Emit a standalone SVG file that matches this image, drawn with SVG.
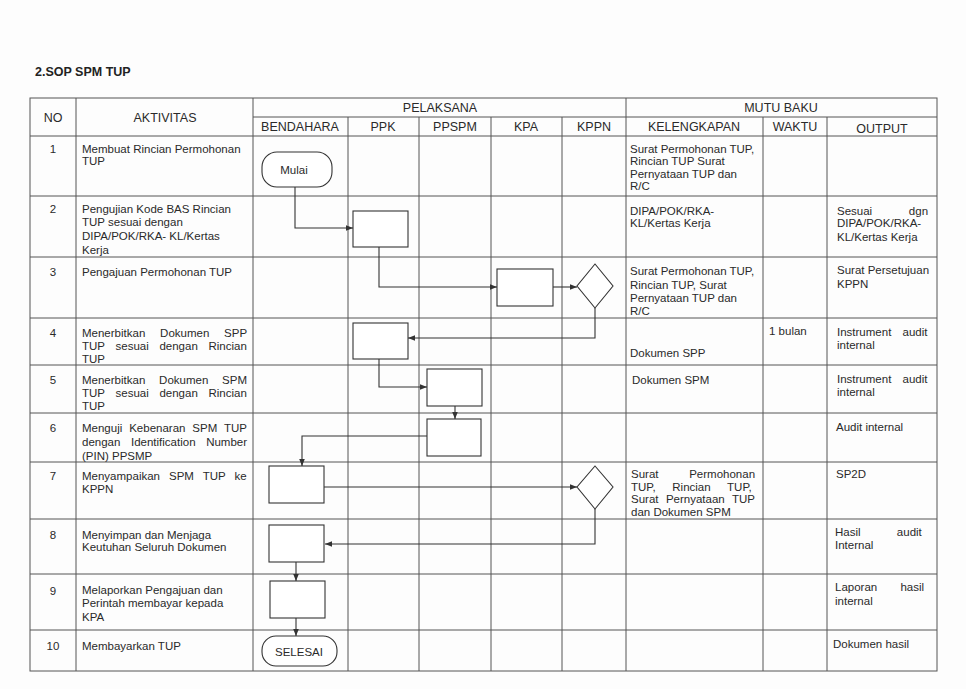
<svg xmlns="http://www.w3.org/2000/svg" width="966" height="689" viewBox="0 0 966 689">
<defs>
<marker id="ah" viewBox="0 0 10 10" refX="10" refY="5" markerWidth="7" markerHeight="7" markerUnits="userSpaceOnUse" orient="auto">
<path d="M0,1 L10,5 L0,9 z" fill="#333"/>
</marker>
<style>
.g{stroke:#555;stroke-width:1;fill:none}
.t{font-family:"Liberation Sans",Arial,sans-serif;font-size:11.5px;fill:#2a2a2a}
.h{font-family:"Liberation Sans",Arial,sans-serif;font-size:12.5px;fill:#2a2a2a;text-anchor:middle}
.c{text-anchor:middle}
.s{fill:none;stroke:#333;stroke-width:1.1}
.n{fill:#fff;stroke:#333;stroke-width:1.1}
</style>
</defs>
<rect width="966" height="689" fill="#fdfdfd"/>
<text x="35" y="76" font-family="Liberation Sans,Arial,sans-serif" font-size="12.5" font-weight="bold" fill="#222">2.SOP SPM TUP</text>

<g id="grid" class="g">
<rect x="30" y="98" width="907" height="573"/>
<line x1="76" y1="98" x2="76" y2="671"/>
<line x1="253" y1="98" x2="253" y2="671"/>
<line x1="626" y1="98" x2="626" y2="671"/>
<line x1="763" y1="117" x2="763" y2="671"/>
<line x1="827" y1="117" x2="827" y2="671"/>
<line x1="348" y1="117" x2="348" y2="671"/>
<line x1="419" y1="117" x2="419" y2="671"/>
<line x1="491" y1="117" x2="491" y2="671"/>
<line x1="562" y1="117" x2="562" y2="671"/>
<line x1="253" y1="117" x2="937" y2="117"/>
<line x1="30" y1="136" x2="937" y2="136"/>
<line x1="30" y1="196" x2="937" y2="196"/>
<line x1="30" y1="257" x2="937" y2="257"/>
<line x1="30" y1="318" x2="937" y2="318"/>
<line x1="30" y1="365" x2="937" y2="365"/>
<line x1="30" y1="413" x2="937" y2="413"/>
<line x1="30" y1="462" x2="937" y2="462"/>
<line x1="30" y1="519" x2="937" y2="519"/>
<line x1="30" y1="574" x2="937" y2="574"/>
<line x1="30" y1="630" x2="937" y2="630"/>
</g>

<g id="header">
<text class="h" x="53" y="122">NO</text>
<text class="h" x="165" y="122">AKTIVITAS</text>
<text class="h" x="440" y="112">PELAKSANA</text>
<text class="h" x="300" y="131">BENDAHARA</text>
<text class="h" x="383" y="131">PPK</text>
<text class="h" x="455" y="131">PPSPM</text>
<text class="h" x="526" y="131">KPA</text>
<text class="h" x="594" y="131">KPPN</text>
<text class="h" x="781" y="112">MUTU BAKU</text>
<text class="h" x="694" y="131">KELENGKAPAN</text>
<text class="h" x="795" y="131">WAKTU</text>
<text class="h" x="882" y="133">OUTPUT</text>
</g>

<g id="rows" class="t">
<text class="c" x="53" y="153">1</text>
<text x="82" y="153">Membuat Rincian Permohonan</text>
<text x="82" y="165">TUP</text>
<text class="c" x="53" y="213">2</text>
<text x="82" y="213">Pengujian Kode BAS Rincian</text>
<text x="82" y="226">TUP sesuai dengan</text>
<text x="82" y="240">DIPA/POK/RKA- KL/Kertas</text>
<text x="82" y="254">Kerja</text>
<text class="c" x="53" y="276">3</text>
<text x="82" y="276">Pengajuan Permohonan TUP</text>
<text class="c" x="53" y="337">4</text>
<text x="82" y="337" word-spacing="11.6">Menerbitkan Dokumen SPP</text>
<text x="82" y="350" word-spacing="7.5">TUP sesuai dengan Rincian</text>
<text x="82" y="363">TUP</text>
<text class="c" x="53" y="384">5</text>
<text x="82" y="384" word-spacing="10.6">Menerbitkan Dokumen SPM</text>
<text x="82" y="397" word-spacing="7.5">TUP sesuai dengan Rincian</text>
<text x="82" y="410">TUP</text>
<text class="c" x="53" y="432">6</text>
<text x="82" y="432" word-spacing="3.7">Menguji Kebenaran SPM TUP</text>
<text x="82" y="446" word-spacing="7.4">dengan Identification Number</text>
<text x="82" y="460">(PIN) PPSMP</text>
<text class="c" x="53" y="480">7</text>
<text x="82" y="480" word-spacing="5.8">Menyampaikan SPM TUP ke</text>
<text x="82" y="493">KPPN</text>
<text class="c" x="53" y="539">8</text>
<text x="82" y="539">Menyimpan dan Menjaga</text>
<text x="82" y="551">Keutuhan Seluruh Dokumen</text>
<text class="c" x="53" y="595">9</text>
<text x="82" y="594">Melaporkan Pengajuan dan</text>
<text x="82" y="607">Perintah membayar kepada</text>
<text x="82" y="621">KPA</text>
<text class="c" x="53" y="650">10</text>
<text x="82" y="650">Membayarkan TUP</text>

<text x="630" y="153">Surat Permohonan TUP,</text>
<text x="630" y="165">Rincian TUP Surat</text>
<text x="630" y="178">Pernyataan TUP dan</text>
<text x="630" y="190">R/C</text>
<text x="630" y="215">DIPA/POK/RKA-</text>
<text x="630" y="227">KL/Kertas Kerja</text>
<text x="630" y="275">Surat Permohonan TUP,</text>
<text x="630" y="289">Rincian TUP, Surat</text>
<text x="630" y="302">Pernyataan TUP dan</text>
<text x="630" y="315">R/C</text>
<text x="630" y="357">Dokumen SPP</text>
<text x="632" y="384">Dokumen SPM</text>
<text x="631" y="478" word-spacing="27.5">Surat Permohonan</text>
<text x="631" y="491" word-spacing="13.4">TUP, Rincian TUP,</text>
<text x="631" y="503" word-spacing="4.2">Surat Pernyataan TUP</text>
<text x="631" y="516">dan Dokumen SPM</text>

<text x="769" y="335">1 bulan</text>

<text x="837" y="215" word-spacing="33.5">Sesuai dgn</text>
<text x="837" y="227">DIPA/POK/RKA-</text>
<text x="837" y="241">KL/Kertas Kerja</text>
<text x="837" y="274">Surat Persetujuan</text>
<text x="837" y="288">KPPN</text>
<text x="837" y="336" word-spacing="8">Instrument audit</text>
<text x="837" y="349">internal</text>
<text x="837" y="383" word-spacing="8">Instrument audit</text>
<text x="837" y="396">internal</text>
<text x="836" y="431">Audit internal</text>
<text x="836" y="478">SP2D</text>
<text x="835" y="536" word-spacing="33.1">Hasil audit</text>
<text x="835" y="549">Internal</text>
<text x="835" y="591" word-spacing="20">Laporan hasil</text>
<text x="835" y="605">internal</text>
<text x="833" y="648">Dokumen hasil</text>
</g>

<g id="connectors" class="s">
<polyline points="295,187 295,228 353,228" marker-end="url(#ah)"/>
<polyline points="379,247 379,287 497,287" marker-end="url(#ah)"/>
<line x1="553" y1="287" x2="577" y2="287" marker-end="url(#ah)"/>
<polyline points="595,308 595,338 408,338" marker-end="url(#ah)"/>
<polyline points="379,359 379,387 427,387" marker-end="url(#ah)"/>
<line x1="455" y1="406" x2="455" y2="419" marker-end="url(#ah)"/>
<polyline points="427,436 302,436 302,466" marker-end="url(#ah)"/>
<line x1="324" y1="487" x2="577" y2="487" marker-end="url(#ah)"/>
<polyline points="595,509 595,544 325,544" marker-end="url(#ah)"/>
<line x1="296" y1="562" x2="296" y2="581" marker-end="url(#ah)"/>
<line x1="296" y1="618" x2="296" y2="636" marker-end="url(#ah)"/>
</g>

<g id="mulai">
<rect class="n" x="262" y="152" width="70" height="35" rx="15"/>
<text class="t c" x="294" y="174">Mulai</text>
</g>
<g id="ppk2"><rect class="n" x="353" y="211" width="55" height="36"/></g>
<g id="kpa3"><rect class="n" x="497" y="269" width="56" height="37"/></g>
<g id="kppn3"><polygon class="n" points="595,264 613,286 595,308 577,286"/></g>
<g id="ppk4"><rect class="n" x="353" y="323" width="55" height="36"/></g>
<g id="ppspm5"><rect class="n" x="427" y="369" width="55" height="37"/></g>
<g id="ppspm6"><rect class="n" x="427" y="419" width="54" height="37"/></g>
<g id="bend7"><rect class="n" x="269" y="466" width="55" height="37"/></g>
<g id="kppn7"><polygon class="n" points="595,466 613,487 595,509 577,487"/></g>
<g id="bend8"><rect class="n" x="269" y="525" width="55" height="37"/></g>
<g id="bend9"><rect class="n" x="270" y="581" width="55" height="37"/></g>
<g id="selesai">
<rect class="n" x="262" y="636" width="75" height="30" rx="14"/>
<text class="t c" x="299" y="656">SELESAI</text>
</g>
</svg>
